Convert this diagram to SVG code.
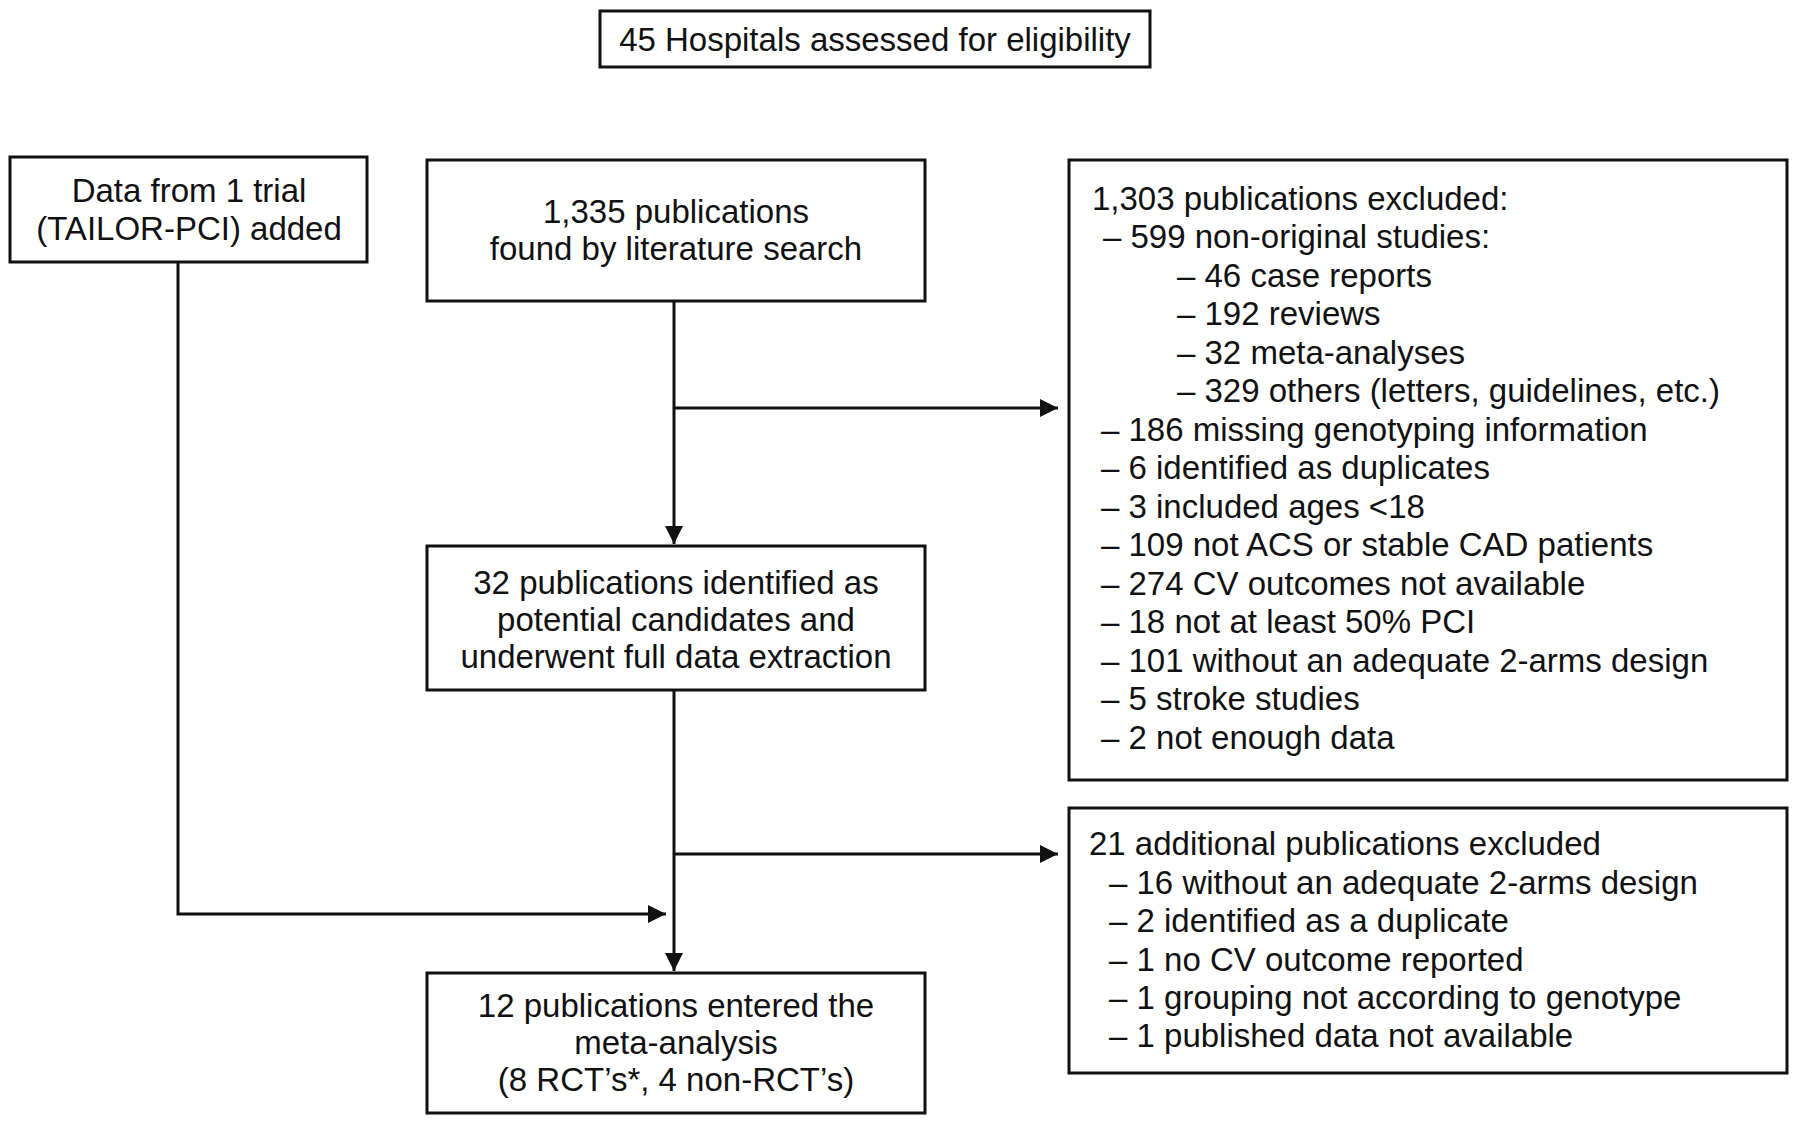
<svg xmlns="http://www.w3.org/2000/svg" width="1800" height="1135" viewBox="0 0 1800 1135">
<style>
.box{fill:#fff;stroke:#111;stroke-width:3}
text{font-family:"Liberation Sans",Arial,sans-serif;font-size:33px;fill:#111}
.c{text-anchor:middle}
.ln{fill:none;stroke:#111;stroke-width:3}
</style>
<defs>
<marker id="ah" viewBox="0 0 10 10" refX="10" refY="5" markerWidth="6" markerHeight="6" orient="auto" markerUnits="strokeWidth">
<path d="M0,0 L10,5 L0,10 z" fill="#111"/>
</marker>
</defs>
<rect width="1800" height="1135" fill="#fff"/>
<g id="connectors">
<path class="ln" d="M674,301 V544" marker-end="url(#ah)"/>
<path class="ln" d="M674,408 H1058" marker-end="url(#ah)"/>
<path class="ln" d="M674,690 V971" marker-end="url(#ah)"/>
<path class="ln" d="M674,854 H1058" marker-end="url(#ah)"/>
<path class="ln" d="M178,262 V914 H666" marker-end="url(#ah)"/>
</g>
<g id="hospitals">
<rect class="box" x="600" y="11" width="550" height="56"/>
<text class="c" x="875" y="51">45 Hospitals assessed for eligibility</text>
</g>
<g id="trial">
<rect class="box" x="10" y="157" width="357" height="105"/>
<text class="c" x="189" y="202">Data from 1 trial</text>
<text class="c" x="189" y="240">(TAILOR-PCI) added</text>
</g>
<g id="search">
<rect class="box" x="427" y="160" width="498" height="141"/>
<text class="c" x="676" y="223">1,335 publications</text>
<text class="c" x="676" y="260">found by literature search</text>
</g>
<g id="excluded1">
<rect class="box" x="1069" y="160" width="718" height="620"/>
<text x="1092" y="210">1,303 publications excluded:</text>
<text x="1103" y="248">– 599 non-original studies:</text>
<text x="1177" y="287">– 46 case reports</text>
<text x="1177" y="325">– 192 reviews</text>
<text x="1177" y="364">– 32 meta-analyses</text>
<text x="1177" y="402">– 329 others (letters, guidelines, etc.)</text>
<text x="1101" y="441">– 186 missing genotyping information</text>
<text x="1101" y="479">– 6 identified as duplicates</text>
<text x="1101" y="518">– 3 included ages &lt;18</text>
<text x="1101" y="556">– 109 not ACS or stable CAD patients</text>
<text x="1101" y="595">– 274 CV outcomes not available</text>
<text x="1101" y="633">– 18 not at least 50% PCI</text>
<text x="1101" y="672">– 101 without an adequate 2-arms design</text>
<text x="1101" y="710">– 5 stroke studies</text>
<text x="1101" y="749">– 2 not enough data</text>
</g>
<g id="candidates">
<rect class="box" x="427" y="546" width="498" height="144"/>
<text class="c" x="676" y="594">32 publications identified as</text>
<text class="c" x="676" y="631">potential candidates and</text>
<text class="c" x="676" y="668">underwent full data extraction</text>
</g>
<g id="excluded2">
<rect class="box" x="1069" y="808" width="718" height="265"/>
<text x="1089" y="855">21 additional publications excluded</text>
<text x="1109" y="894">– 16 without an adequate 2-arms design</text>
<text x="1109" y="932">– 2 identified as a duplicate</text>
<text x="1109" y="971">– 1 no CV outcome reported</text>
<text x="1109" y="1009">– 1 grouping not according to genotype</text>
<text x="1109" y="1047">– 1 published data not available</text>
</g>
<g id="meta">
<rect class="box" x="427" y="973" width="498" height="140"/>
<text class="c" x="676" y="1017">12 publications entered the</text>
<text class="c" x="676" y="1054">meta-analysis</text>
<text class="c" x="676" y="1091">(8 RCT’s*, 4 non-RCT’s)</text>
</g>
</svg>
